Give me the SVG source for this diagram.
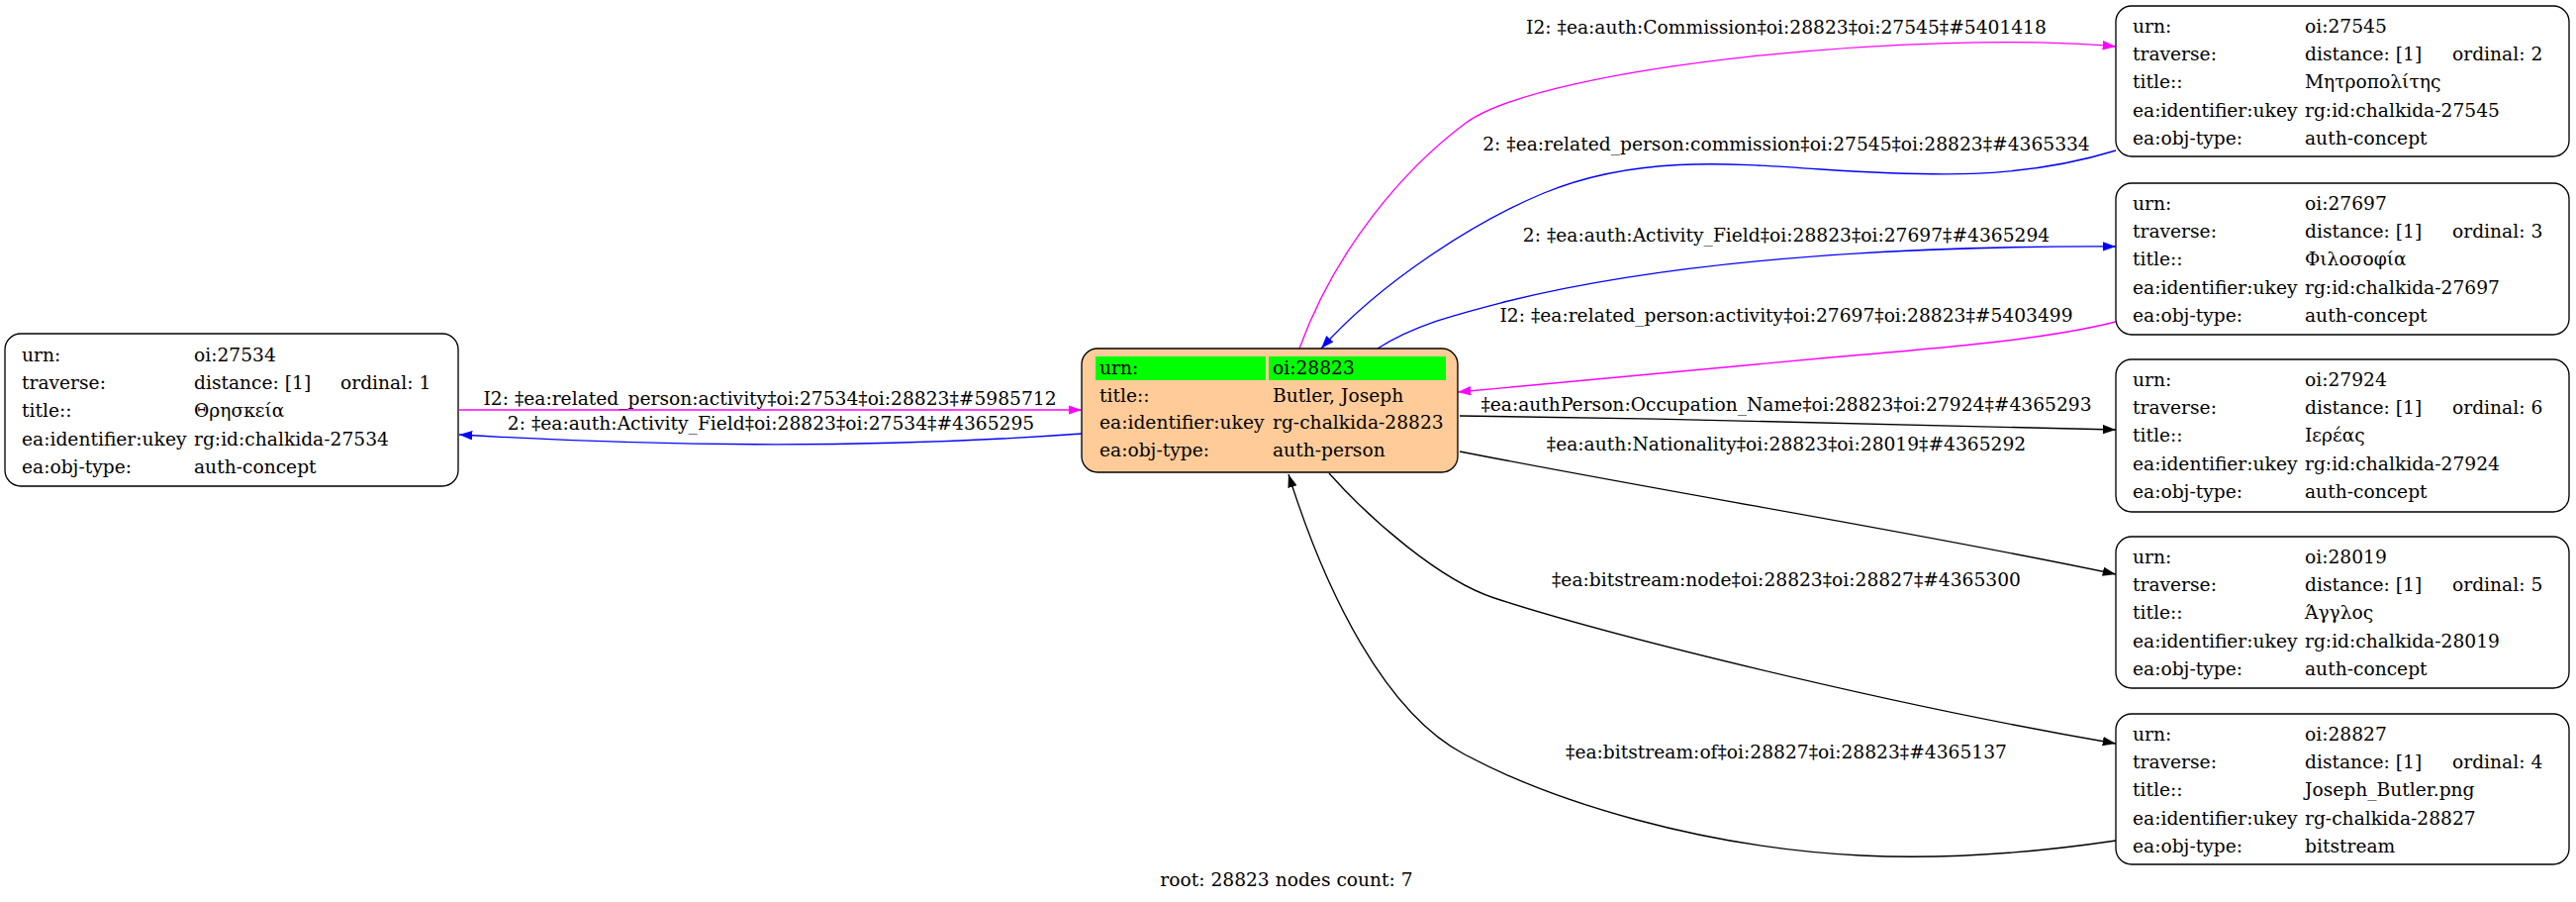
<svg xmlns="http://www.w3.org/2000/svg" width="2603" height="911" viewBox="0 0 2603 911">
<defs>
<style>
text{font-family:"DejaVu Serif","Liberation Serif",serif;font-size:18.67px;fill:#000}
.box{fill:#fff;stroke:#000;stroke-width:1.33}
.lbl{text-anchor:middle}
.e{fill:none;stroke-width:1.33}
.k{stroke:#000}.b{stroke:#0000ff}.m{stroke:#ff00ff}
</style>
<marker id="ak" markerUnits="userSpaceOnUse" markerWidth="14" markerHeight="10" refX="13.3" refY="4.7" orient="auto" viewBox="0 0 14 10"><path d="M0,0 L13.3,4.7 L0,9.4 z" fill="#000"/></marker>
<marker id="ab" markerUnits="userSpaceOnUse" markerWidth="14" markerHeight="10" refX="13.3" refY="4.7" orient="auto" viewBox="0 0 14 10"><path d="M0,0 L13.3,4.7 L0,9.4 z" fill="#0000ff"/></marker>
<marker id="am" markerUnits="userSpaceOnUse" markerWidth="14" markerHeight="10" refX="13.3" refY="4.7" orient="auto" viewBox="0 0 14 10"><path d="M0,0 L13.3,4.7 L0,9.4 z" fill="#ff00ff"/></marker>
</defs>
<rect width="2603" height="911" fill="#fff"/>
<g id="edges">
<path class="e m" marker-end="url(#am)" d="M1313,352 C1350,250 1420,170 1480,125 C1560,65 1950,30 2138,47"/>
<text class="lbl" x="1805" y="34">I2: ‡ea:auth:Commission‡oi:28823‡oi:27545‡#5401418</text>
<path class="e b" marker-end="url(#ab)" d="M2138,152 C2040,182 1950,178 1840,171 C1740,164 1650,158 1560,195 C1490,224 1395,285 1335,352"/>
<text class="lbl" x="1805" y="152">2: ‡ea:related_person:commission‡oi:27545‡oi:28823‡#4365334</text>
<path class="e b" marker-end="url(#ab)" d="M1392,352 C1430,328 1470,318 1520,305 C1680,265 1900,248 2138,249"/>
<text class="lbl" x="1805" y="244">2: ‡ea:auth:Activity_Field‡oi:28823‡oi:27697‡#4365294</text>
<path class="e m" marker-end="url(#am)" d="M2138,325 C2070,342 1980,350 1850,361 C1700,374 1580,386 1473,396"/>
<text class="lbl" x="1805" y="325">I2: ‡ea:related_person:activity‡oi:27697‡oi:28823‡#5403499</text>
<path class="e k" marker-end="url(#ak)" d="M1475,420 C1700,423 1950,428 2138,434"/>
<text class="lbl" x="1805" y="415">‡ea:authPerson:Occupation_Name‡oi:28823‡oi:27924‡#4365293</text>
<path class="e k" marker-end="url(#ak)" d="M1475,456 C1700,500 1950,540 2138,580"/>
<text class="lbl" x="1805" y="455">‡ea:auth:Nationality‡oi:28823‡oi:28019‡#4365292</text>
<path class="e k" marker-end="url(#ak)" d="M1343,478 C1385,525 1455,586 1510,604 C1620,640 1900,710 2138,751"/>
<text class="lbl" x="1805" y="592">‡ea:bitstream:node‡oi:28823‡oi:28827‡#4365300</text>
<path class="e k" marker-end="url(#ak)" d="M2138,849 C2050,862 1960,868 1880,864 C1720,856 1570,810 1480,762 C1400,720 1340,600 1302,479"/>
<text class="lbl" x="1805" y="766">‡ea:bitstream:of‡oi:28827‡oi:28823‡#4365137</text>
<path class="e m" marker-end="url(#am)" d="M464,414 L1093,414"/>
<text class="lbl" x="778" y="409">I2: ‡ea:related_person:activity‡oi:27534‡oi:28823‡#5985712</text>
<path class="e b" marker-end="url(#ab)" d="M1093,438 C900,452 700,453 464,439"/>
<text class="lbl" x="779" y="434">2: ‡ea:auth:Activity_Field‡oi:28823‡oi:27534‡#4365295</text>
</g>
<g id="node-28823">
<rect x="1093" y="352" width="380" height="125" rx="16" fill="#ffcc99" stroke="#000" stroke-width="1.33"/>
<rect x="1107" y="360" width="172" height="24" fill="#00ff00"/>
<rect x="1282" y="360" width="179" height="24" fill="#00ff00"/>
<text x="1111" y="378">urn:</text><text x="1286" y="378">oi:28823</text>
<text x="1111" y="406">title::</text><text x="1286" y="406">Butler, Joseph</text>
<text x="1111" y="433">ea:identifier:ukey</text><text x="1286" y="433">rg-chalkida-28823</text>
<text x="1111" y="461">ea:obj-type:</text><text x="1286" y="461">auth-person</text>
</g>
<g id="node-27534" transform="translate(5,337)">
<rect class="box" x="0" y="0" width="458" height="154" rx="16"/>
<text x="17" y="28">urn:</text><text x="191" y="28">oi:27534</text>
<text x="17" y="56">traverse:</text><text x="191" y="56">distance: [1]</text><text x="339" y="56">ordinal: 1</text>
<text x="17" y="84.4">title::</text><text x="191" y="84.4">Θρησκεία</text>
<text x="17" y="112.6">ea:identifier:ukey</text><text x="191" y="112.6">rg:id:chalkida-27534</text>
<text x="17" y="140.8">ea:obj-type:</text><text x="191" y="140.8">auth-concept</text>
</g>
<g id="node-27545" transform="translate(2138,6)">
<rect class="box" x="0" y="0" width="458" height="152" rx="16"/>
<text x="17" y="27">urn:</text><text x="191" y="27">oi:27545</text>
<text x="17" y="55.2">traverse:</text><text x="191" y="55.2">distance: [1]</text><text x="340" y="55.2">ordinal: 2</text>
<text x="17" y="83.4">title::</text><text x="191" y="83.4">Μητροπολίτης</text>
<text x="17" y="111.6">ea:identifier:ukey</text><text x="191" y="111.6">rg:id:chalkida-27545</text>
<text x="17" y="139.8">ea:obj-type:</text><text x="191" y="139.8">auth-concept</text>
</g>
<g id="node-27697" transform="translate(2138,185)">
<rect class="box" x="0" y="0" width="458" height="153" rx="16"/>
<text x="17" y="27">urn:</text><text x="191" y="27">oi:27697</text>
<text x="17" y="55.2">traverse:</text><text x="191" y="55.2">distance: [1]</text><text x="340" y="55.2">ordinal: 3</text>
<text x="17" y="83.4">title::</text><text x="191" y="83.4">Φιλοσοφία</text>
<text x="17" y="111.6">ea:identifier:ukey</text><text x="191" y="111.6">rg:id:chalkida-27697</text>
<text x="17" y="139.8">ea:obj-type:</text><text x="191" y="139.8">auth-concept</text>
</g>
<g id="node-27924" transform="translate(2138,363)">
<rect class="box" x="0" y="0" width="458" height="154" rx="16"/>
<text x="17" y="27">urn:</text><text x="191" y="27">oi:27924</text>
<text x="17" y="55.2">traverse:</text><text x="191" y="55.2">distance: [1]</text><text x="340" y="55.2">ordinal: 6</text>
<text x="17" y="83.4">title::</text><text x="191" y="83.4">Ιερέας</text>
<text x="17" y="111.6">ea:identifier:ukey</text><text x="191" y="111.6">rg:id:chalkida-27924</text>
<text x="17" y="139.8">ea:obj-type:</text><text x="191" y="139.8">auth-concept</text>
</g>
<g id="node-28019" transform="translate(2138,542)">
<rect class="box" x="0" y="0" width="458" height="153" rx="16"/>
<text x="17" y="27">urn:</text><text x="191" y="27">oi:28019</text>
<text x="17" y="55.2">traverse:</text><text x="191" y="55.2">distance: [1]</text><text x="340" y="55.2">ordinal: 5</text>
<text x="17" y="83.4">title::</text><text x="191" y="83.4">Άγγλος</text>
<text x="17" y="111.6">ea:identifier:ukey</text><text x="191" y="111.6">rg:id:chalkida-28019</text>
<text x="17" y="139.8">ea:obj-type:</text><text x="191" y="139.8">auth-concept</text>
</g>
<g id="node-28827" transform="translate(2138,721)">
<rect class="box" x="0" y="0" width="458" height="152" rx="16"/>
<text x="17" y="27">urn:</text><text x="191" y="27">oi:28827</text>
<text x="17" y="55.2">traverse:</text><text x="191" y="55.2">distance: [1]</text><text x="340" y="55.2">ordinal: 4</text>
<text x="17" y="83.4">title::</text><text x="191" y="83.4">Joseph_Butler.png</text>
<text x="17" y="111.6">ea:identifier:ukey</text><text x="191" y="111.6">rg-chalkida-28827</text>
<text x="17" y="139.8">ea:obj-type:</text><text x="191" y="139.8">bitstream</text>
</g>
<text class="lbl" x="1300" y="895">root: 28823 nodes count: 7</text>
</svg>
